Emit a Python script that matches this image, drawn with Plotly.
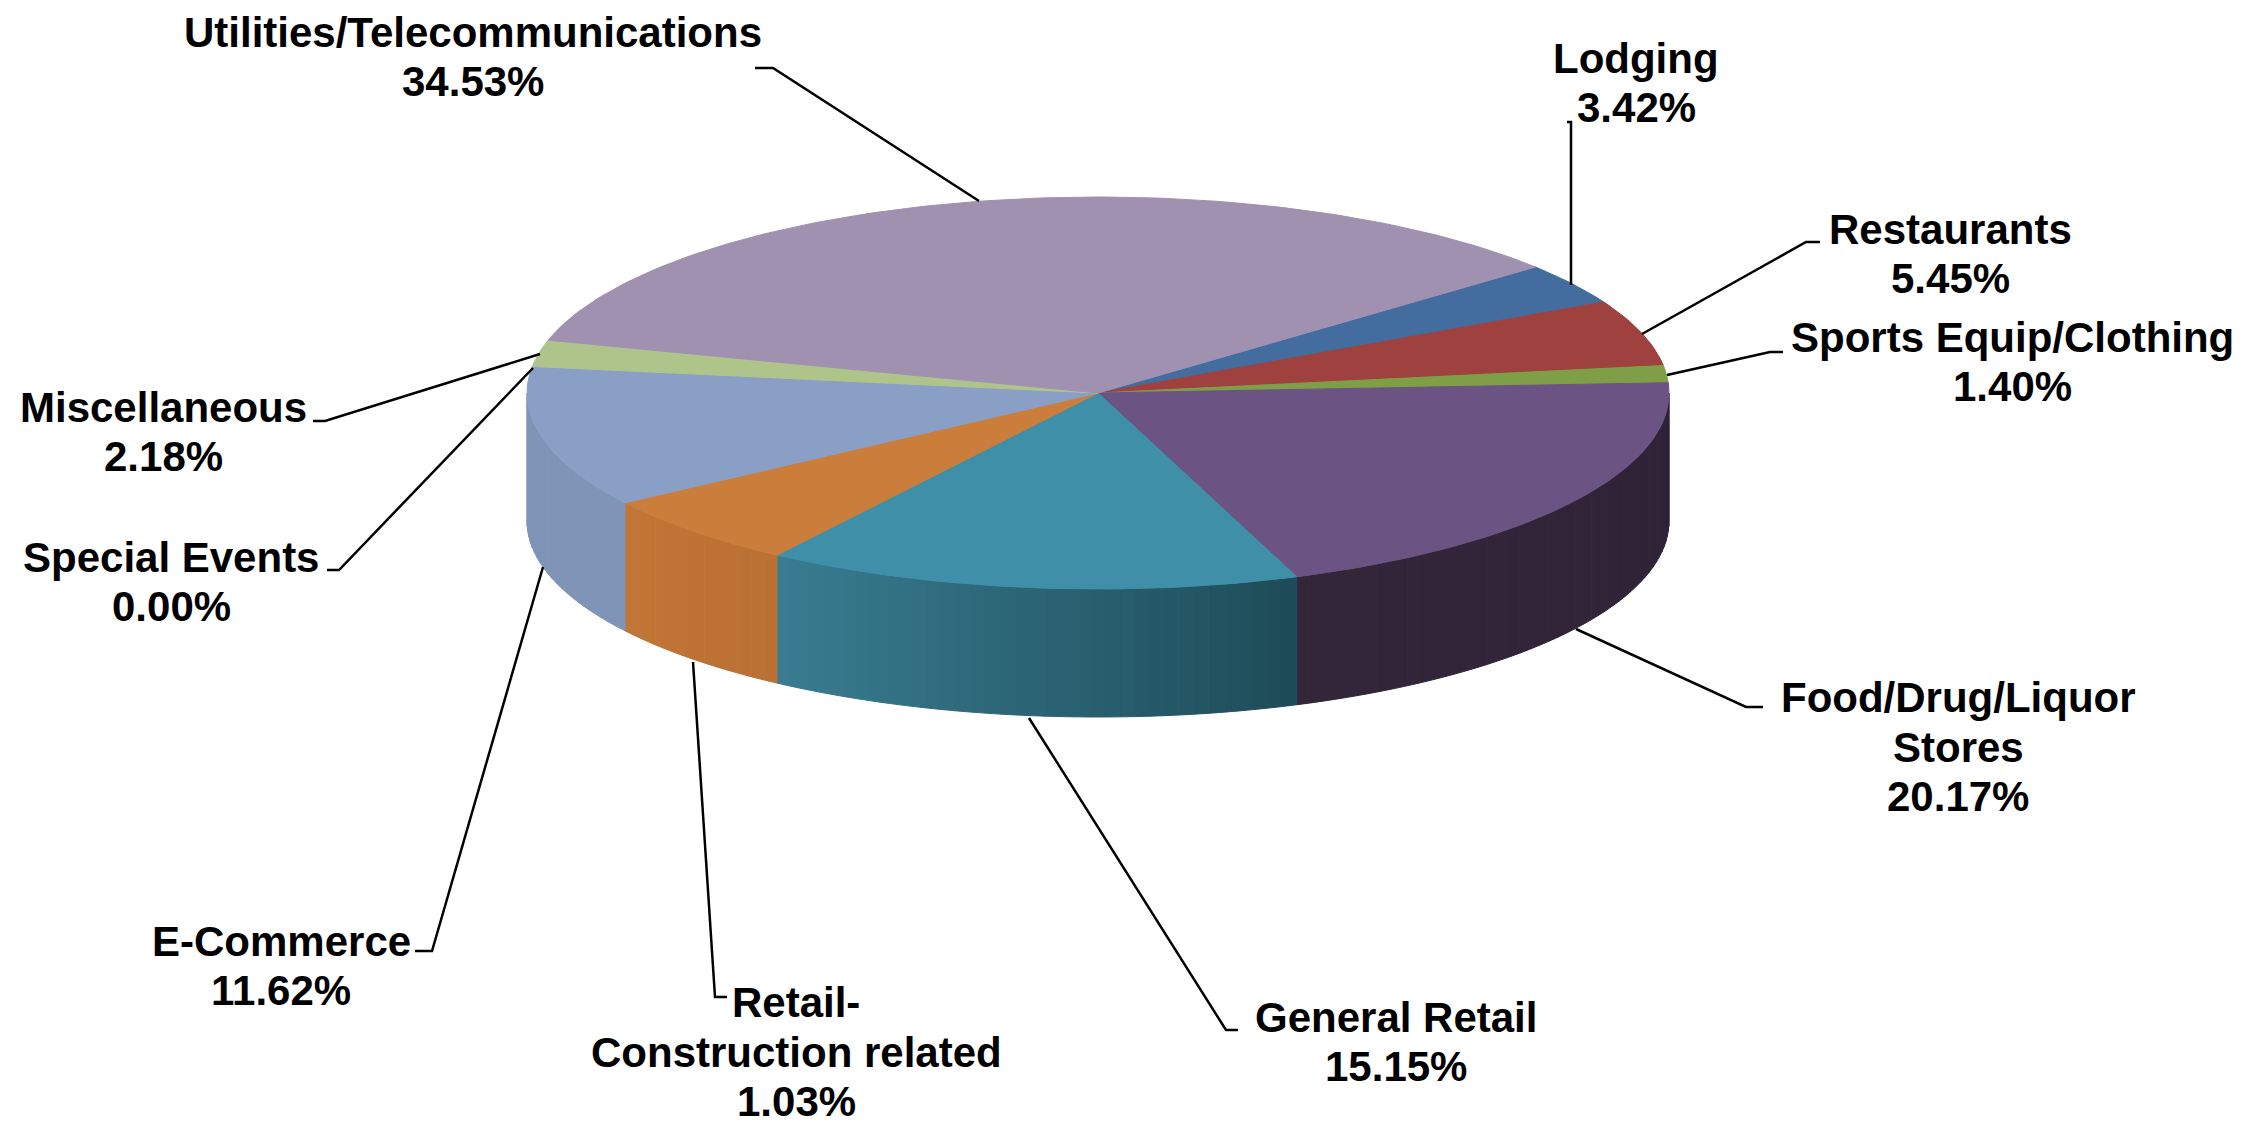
import math
import plotly.graph_objects as go

# --- data ---
categories = [["Lodging"], ["Restaurants"], ["Sports Equip/Clothing"], ["Food/Drug/Liquor", "Stores"],
              ["General Retail"], ["Retail-", "Construction related"], ["E-Commerce"],
              ["Special Events"], ["Miscellaneous"], ["Utilities/Telecommunications"]]
printed_labels = ["3.42%", "5.45%", "1.40%", "20.17%", "15.15%", "1.03%", "11.62%", "0.00%", "2.18%", "34.53%"]
# slice sizes as drawn (the Retail-Construction slice is drawn larger than its printed label)
slice_values = [3.42, 5.45, 1.40, 20.17, 15.15, 6.03, 11.62, 0.00, 2.18, 34.53]

# --- styles and layout ---
top_colors = ["#426D9E", "#9F413E", "#7F9F47", "#6B5384", "#3F8FA8", "#CB7D3B", "#8A9FC6", "#8A9FC6", "#AFC48A", "#A191B1"]
side_colors = [None, None, None, ("#2F2238", "#332639"), ("#1E4C58", "#397D92"), ("#BA7033", "#C27636"),
               ("#7F94B6", "#7F94B6"), None, None, None]
CX, CY, RX, RY, DEPTH = 1098, 393, 571, 196, 128
START_ANGLE = 40.0
LINE_H = 49.5
label_pos = [(1636, 83), (1950, 254), (2012, 362), (1958, 747), (1396, 1042), (796, 1052), (281, 966),
             (171, 582), (163, 432), (473, 57)]
leaders = [
    [(1567, 122), (1571, 122), (1571, 285)],
    [(1820, 242), (1806, 242), (1642, 334)],
    [(1783, 352), (1770, 352), (1667, 375)],
    [(1763, 707), (1746, 707), (1576, 629)],
    [(1238, 1030), (1226, 1030), (1029, 718)],
    [(727, 997), (715, 997), (693, 662)],
    [(415, 951), (432, 951), (543, 567)],
    [(327, 570), (339, 570), (533, 368)],
    [(313, 421), (325, 421), (540, 354)],
    [(755, 68), (773, 68), (979, 201)],
]
FONT = "Liberation Sans"


def ell(theta_deg, dz=0.0):
    t = math.radians(theta_deg)
    return CX + RX * math.cos(t), CY - RY * math.sin(t) + dz


def mix(c1, c2, f):
    a = [int(c1[i:i + 2], 16) for i in (1, 3, 5)]
    b = [int(c2[i:i + 2], 16) for i in (1, 3, 5)]
    return "rgb(%d,%d,%d)" % tuple(round(x + (y - x) * f) for x, y in zip(a, b))


total = sum(slice_values)
bounds = [START_ANGLE]
for v in slice_values:
    bounds.append(bounds[-1] - v / total * 360.0)

fig = go.Figure()


def poly(xs, ys, color):
    fig.add_trace(go.Scatter(x=xs, y=ys, mode="lines", fill="toself", fillcolor=color,
                             line=dict(color=color, width=1), hoverinfo="skip", showlegend=False))


# side walls: only the front half of the disc is visible
for i, sc in enumerate(side_colors):
    if sc is None:
        continue
    a0, a1 = bounds[i], bounds[i + 1]   # a0 > a1 (clockwise)
    hi, lo = min(a0, 0.0), max(a1, -180.0)
    if hi <= lo:
        continue
    n = max(2, int((hi - lo) / 1.5))
    for k in range(n):
        t0 = hi - (hi - lo) * k / n
        t1 = hi - (hi - lo) * (k + 1) / n
        pts = [t0 - (t0 - t1) * j / 3 for j in range(4)]
        xs = [ell(t)[0] for t in pts] + [ell(t)[0] for t in reversed(pts)] + [ell(t0)[0]]
        ys = [ell(t)[1] for t in pts] + [ell(t, DEPTH)[1] for t in reversed(pts)] + [ell(t0)[1]]
        poly(xs, ys, mix(sc[0], sc[1], (k + 0.5) / n))

# top surface, one wedge per value
for i, v in enumerate(slice_values):
    if v <= 0:
        continue
    a0, a1 = bounds[i], bounds[i + 1]
    n = max(3, int((a0 - a1) / 1.0))
    arc = [ell(a0 - (a0 - a1) * j / n) for j in range(n + 1)]
    xs = [CX] + [p[0] for p in arc] + [CX]
    ys = [CY] + [p[1] for p in arc] + [CY]
    poly(xs, ys, top_colors[i])

# leader lines
for pts in leaders:
    fig.add_trace(go.Scatter(x=[p[0] for p in pts], y=[p[1] for p in pts], mode="lines",
                             line=dict(color="black", width=2.5), hoverinfo="skip", showlegend=False))

# labels, one annotation per text line to hold the tight line spacing
for name_lines, pct, (x, yc) in zip(categories, printed_labels, label_pos):
    lines = name_lines + [pct]
    for j, line in enumerate(lines):
        y = yc + (j - (len(lines) - 1) / 2) * LINE_H
        fig.add_annotation(x=x, y=y, xref="x", yref="y", text=f"<b>{line}</b>", showarrow=False,
                           xanchor="center", yanchor="middle", align="center",
                           font=dict(family=FONT, size=42, color="black"))

fig.update_layout(width=2256, height=1126, margin=dict(l=0, r=0, t=0, b=0),
                  paper_bgcolor="white", plot_bgcolor="white", showlegend=False,
                  xaxis=dict(range=[0, 2256], visible=False, fixedrange=True),
                  yaxis=dict(range=[1126, 0], visible=False, fixedrange=True))
fig.write_html("out.html", config=dict(displayModeBar=False),
               post_script="document.body.style.margin='0';document.body.style.overflow='hidden';")
